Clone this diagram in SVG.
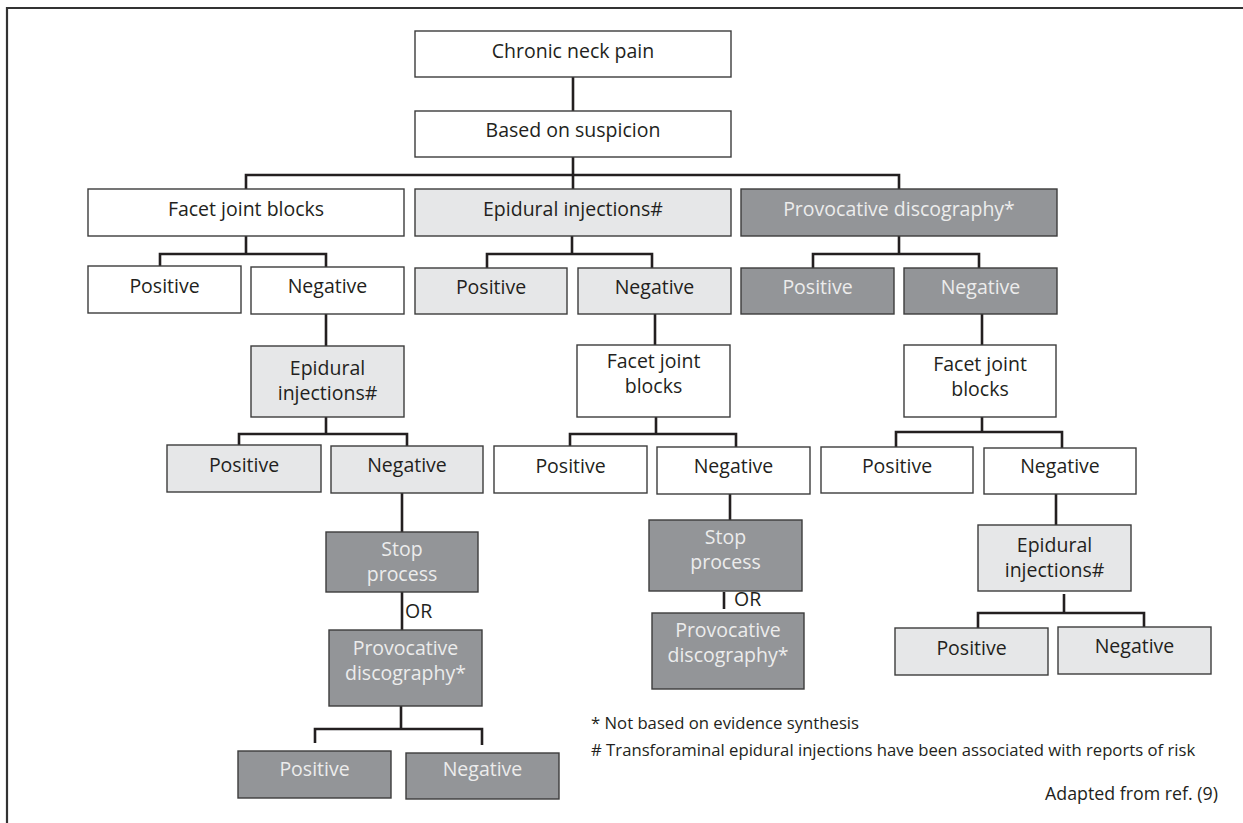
<svg xmlns="http://www.w3.org/2000/svg" width="1243" height="823" viewBox="0 0 1243 823">
<style>
.box{stroke:#3c3c3c;stroke-width:1.4}
.w{fill:#ffffff}
.l{fill:#e6e7e8}
.d{fill:#939598}
text{font-family:"Open Sans","Noto Sans","DejaVu Sans",sans-serif;font-size:19.5px;text-anchor:middle;fill:#231f20}
text.lt{fill:#ececec}
.conn path{fill:none;stroke:#231f20;stroke-width:2.6}
.note{font-size:16.7px;text-anchor:start}
</style>
<rect x="0" y="0" width="1243" height="823" fill="#ffffff"/>
<path d="M7 823 V8 H1243" fill="none" stroke="#333333" stroke-width="2.2"/>
<g class="conn">
<path d="M573 77 V111"/>
<path d="M573 157 V189"/>
<path d="M246 189 V175 H899 V189"/>
<path d="M246 236 V254"/>
<path d="M160 266 V254 H326 V267"/>
<path d="M572 236 V254"/>
<path d="M487 268 V254 H652 V268"/>
<path d="M899 236 V254"/>
<path d="M813 268 V254 H979 V268"/>
<path d="M326 314 V346"/>
<path d="M326 417 V434"/>
<path d="M239 445 V434 H407 V446"/>
<path d="M402 493 V532"/>
<path d="M402 592 V630"/>
<path d="M401 706 V729"/>
<path d="M315 743 V729 H482 V745"/>
<path d="M655 314 V345"/>
<path d="M656 417 V434"/>
<path d="M570 446 V434 H736 V447"/>
<path d="M730 494 V520"/>
<path d="M724 592 V609"/>
<path d="M982 314 V345"/>
<path d="M982 415 V432"/>
<path d="M896 447 V432 H1062 V448"/>
<path d="M1056 494 V525"/>
<path d="M1064 594 V613"/>
<path d="M978 628 V613 H1144 V627"/>
</g>
<g id="n1"><rect class="box w" x="415" y="31" width="316" height="46"/><text x="573" y="58">Chronic neck pain</text></g>
<g id="n2"><rect class="box w" x="415" y="111" width="316" height="46"/><text x="573" y="137">Based on suspicion</text></g>
<g id="n3"><rect class="box w" x="88" y="189" width="316" height="47"/><text x="246" y="216">Facet joint blocks</text></g>
<g id="n4"><rect class="box l" x="415" y="189" width="316" height="47"/><text x="573" y="216">Epidural injections#</text></g>
<g id="n5"><rect class="box d" x="741" y="189" width="316" height="47"/><text class="lt" x="899" y="216">Provocative discography*</text></g>
<g id="n6"><rect class="box w" x="88" y="266" width="153" height="47"/><text x="164.5" y="293">Positive</text></g>
<g id="n7"><rect class="box w" x="251" y="267" width="153" height="47"/><text x="327.5" y="293">Negative</text></g>
<g id="n8"><rect class="box l" x="415" y="268" width="152" height="46"/><text x="491" y="294">Positive</text></g>
<g id="n9"><rect class="box l" x="578" y="268" width="153" height="46"/><text x="654.5" y="294">Negative</text></g>
<g id="n10"><rect class="box d" x="741" y="268" width="153" height="46"/><text class="lt" x="817.5" y="294">Positive</text></g>
<g id="n11"><rect class="box d" x="904" y="268" width="153" height="46"/><text class="lt" x="980.5" y="294">Negative</text></g>
<g id="n12"><rect class="box l" x="251" y="346" width="153" height="71"/><text x="327.5" y="375">Epidural</text><text x="327.5" y="400">injections#</text></g>
<g id="n13"><rect class="box l" x="167" y="445" width="154" height="47"/><text x="244" y="472">Positive</text></g>
<g id="n14"><rect class="box l" x="331" y="446" width="152" height="47"/><text x="407" y="472">Negative</text></g>
<g id="n15"><rect class="box d" x="326" y="532" width="152" height="60"/><text class="lt" x="402" y="555.5">Stop</text><text class="lt" x="402" y="580.5">process</text></g>
<g id="n16"><rect class="box d" x="329" y="630" width="153" height="76"/><text class="lt" x="405.5" y="654.5">Provocative</text><text class="lt" x="405.5" y="679.5">discography*</text></g>
<g id="n17"><rect class="box d" x="238" y="751" width="153" height="47"/><text class="lt" x="314.5" y="776">Positive</text></g>
<g id="n18"><rect class="box d" x="406" y="753" width="153" height="46"/><text class="lt" x="482.5" y="776">Negative</text></g>
<g id="n19"><rect class="box w" x="577" y="345" width="153" height="72"/><text x="653.5" y="368">Facet joint</text><text x="653.5" y="393">blocks</text></g>
<g id="n20"><rect class="box w" x="494" y="446" width="153" height="47"/><text x="570.5" y="473">Positive</text></g>
<g id="n21"><rect class="box w" x="657" y="447" width="153" height="47"/><text x="733.5" y="473">Negative</text></g>
<g id="n22"><rect class="box d" x="649" y="520" width="153" height="71"/><text class="lt" x="725.5" y="543.5">Stop</text><text class="lt" x="725.5" y="569">process</text></g>
<g id="n23"><rect class="box d" x="652" y="613" width="152" height="76"/><text class="lt" x="728" y="637">Provocative</text><text class="lt" x="728" y="662">discography*</text></g>
<g id="n24"><rect class="box w" x="904" y="345" width="152" height="72"/><text x="980" y="371">Facet joint</text><text x="980" y="396">blocks</text></g>
<g id="n25"><rect class="box w" x="821" y="447" width="152" height="46"/><text x="897" y="473">Positive</text></g>
<g id="n26"><rect class="box w" x="984" y="448" width="152" height="46"/><text x="1060" y="473">Negative</text></g>
<g id="n27"><rect class="box l" x="978" y="525" width="153" height="66"/><text x="1054.5" y="551.5">Epidural</text><text x="1054.5" y="576.5">injections#</text></g>
<g id="n28"><rect class="box l" x="895" y="628" width="153" height="47"/><text x="971.5" y="655">Positive</text></g>
<g id="n29"><rect class="box l" x="1058" y="627" width="153" height="47"/><text x="1134.5" y="653">Negative</text></g>
<g id="labels">
<text x="405" y="618" style="text-anchor:start">OR</text>
<text x="734" y="606" style="text-anchor:start">OR</text>
<text class="note" x="591" y="729">* Not based on evidence synthesis</text>
<text class="note" x="591" y="756"># Transforaminal epidural injections have been associated with reports of risk</text>
<text x="1218" y="800" style="text-anchor:end;font-size:17.8px">Adapted from ref. (9)</text>
</g>
</svg>
